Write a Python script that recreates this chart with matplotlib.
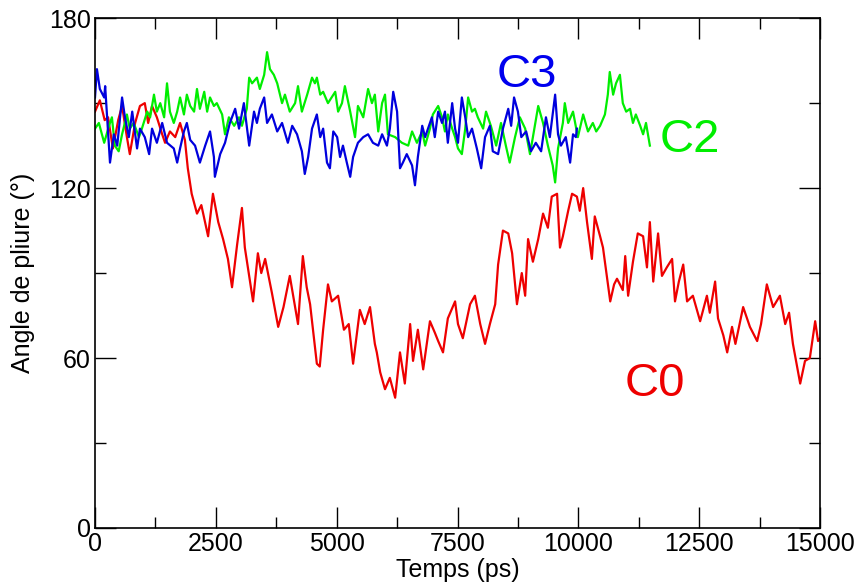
import matplotlib
matplotlib.use("Agg")
import matplotlib.pyplot as plt
from matplotlib.ticker import MultipleLocator

# C0 (red)
c0_t = [0, 100, 200, 270, 370, 480, 560, 660, 720, 830, 930, 1030, 1100, 1180, 1280, 1390,
        1450, 1550, 1660, 1760, 1860, 1920, 2000, 2110, 2200, 2340, 2440, 2550, 2650, 2750,
        2835, 2940, 3040, 3100, 3270, 3370, 3440, 3520, 3660, 3790, 3900, 4030, 4120, 4200,
        4300, 4380, 4450, 4590, 4650, 4720, 4820, 4900, 5030, 5150, 5250, 5340, 5480, 5580,
        5690, 5790, 5830, 5900, 6000, 6100, 6210, 6310, 6410, 6520, 6580, 6680, 6790, 6930,
        7030, 7100, 7200, 7300, 7450, 7510, 7610, 7760, 7860, 7970, 8070, 8170, 8280, 8340,
        8440, 8550, 8630, 8730, 8830, 8900, 8960, 9060, 9170, 9270, 9370, 9450, 9560, 9620,
        9680, 9790, 9870, 9970, 10030, 10100, 10180, 10280, 10340, 10450, 10510, 10660, 10740,
        10800, 10920, 10970, 11030, 11130, 11230, 11340, 11420, 11480, 11550, 11650, 11730,
        11830, 11940, 12000, 12080, 12170, 12250, 12370, 12520, 12660, 12720, 12830, 12890,
        13000, 13080, 13180, 13250, 13410, 13550, 13700, 13780, 13900, 14030, 14170, 14280,
        14360, 14440, 14590, 14690, 14790, 14900, 14960, 15000]
c0_v = [147, 151, 144, 145, 134, 144, 149, 138, 132, 143, 149, 150, 143, 149, 145, 139,
        136, 140, 138, 143, 137, 127, 118, 111, 114, 103, 118, 108, 102, 95,
        85, 100, 113, 99, 80, 97, 90, 95, 83, 71, 78, 89, 80, 72,
        96, 85, 79, 58, 57, 70, 86, 80, 82, 70, 72, 58, 77, 72,
        78, 65, 62, 55, 49, 53, 46, 62, 51, 72, 59, 70, 56, 73,
        69, 66, 62, 74, 80, 72, 67, 79, 82, 72, 65, 72, 79, 93,
        105, 104, 97, 79, 90, 82, 102, 94, 102, 111, 106, 117, 118, 99,
        103, 112, 118, 117, 112, 120, 108, 95, 110, 103, 99, 80, 86,
        88, 84, 96, 82, 94, 104, 103, 92, 108, 87, 104, 89,
        92, 95, 80, 87, 93, 80, 82, 73, 82, 76, 87, 74,
        68, 62, 71, 65, 78, 71, 66, 72, 86, 78, 82, 72,
        76, 65, 51, 59, 60, 73, 66, 67]

# C2 (green)
c2_t = [0, 80, 190, 290, 350, 410, 490, 560, 660, 720, 800, 910, 970, 1080, 1140, 1220,
        1280, 1350, 1430, 1490, 1550, 1630, 1700, 1760, 1840, 1900, 1970, 2050, 2110, 2170,
        2260, 2320, 2380, 2460, 2520, 2630, 2690, 2770, 2880, 2980, 3040, 3140, 3190, 3250,
        3350, 3410, 3500, 3560, 3620, 3700, 3770, 3870, 3930, 4030, 4140, 4200, 4280, 4390,
        4490, 4550, 4590, 4660, 4720, 4820, 4970, 5030, 5110, 5170, 5280, 5380, 5440, 5550,
        5650, 5730, 5790, 5860, 5940, 6000, 6060, 6210, 6350, 6480, 6560, 6660, 6770, 6830,
        6930, 6990, 7100, 7180, 7240, 7300, 7390, 7450, 7510, 7590, 7660, 7720, 7800, 7860,
        7920, 8030, 8090, 8190, 8300, 8400, 8500, 8580, 8690, 8790, 8900, 9000, 9100, 9170,
        9270, 9370, 9470, 9520, 9580, 9680, 9720, 9790, 9890, 9990, 10100, 10200, 10300,
        10370, 10450, 10550, 10610, 10650, 10720, 10780, 10860, 10920, 10990, 11070, 11130,
        11190, 11280, 11340, 11400, 11480]
c2_v = [141, 143, 136, 142, 145, 135, 133, 139, 146, 141, 143, 138, 141, 147, 145, 153,
        147, 150, 145, 157, 147, 143, 147, 152, 146, 153, 149, 147, 155, 148,
        154, 147, 152, 149, 150, 146, 139, 145, 142, 145, 142, 148, 159, 157,
        159, 155, 160, 168, 162, 160, 157, 150, 153, 147, 150, 156, 147, 153,
        159, 157, 159, 153, 154, 150, 154, 147, 150, 156, 147, 138, 149, 145,
        155, 150, 153, 140, 150, 153, 139, 138, 136, 135, 140, 136, 140, 135,
        141, 146, 149, 145, 140, 146, 141, 138, 134, 132, 141, 152, 147, 148,
        145, 141, 147, 142, 135, 143, 135, 129, 138, 145, 141, 132, 142, 149,
        143, 135, 128, 122, 134, 143, 150, 143, 147, 138, 146, 140, 143,
        140, 142, 146, 153, 161, 153, 157, 160, 150, 147, 148, 143,
        146, 142, 139, 143, 135]

# C3 (blue)
c3_t = [0, 40, 100, 190, 210, 310, 390, 460, 560, 620, 700, 770, 870, 930, 1030, 1120,
        1180, 1280, 1390, 1490, 1630, 1700, 1760, 1840, 1900, 1970, 2070, 2170, 2280, 2380,
        2460, 2480, 2590, 2690, 2790, 2900, 2980, 3080, 3190, 3290, 3350, 3410, 3500, 3560,
        3660, 3770, 3870, 3990, 4080, 4180, 4280, 4340, 4410, 4490, 4590, 4660, 4720, 4800,
        4860, 4930, 5010, 5070, 5130, 5210, 5280, 5340, 5440, 5550, 5650, 5750, 5860, 5940,
        6040, 6100, 6170, 6250, 6310, 6370, 6450, 6560, 6620, 6680, 6770, 6830, 6890, 6970,
        7030, 7100, 7180, 7240, 7300, 7390, 7450, 7510, 7590, 7660, 7720, 7800, 7900, 7990,
        8070, 8170, 8230, 8340, 8440, 8550, 8610, 8670, 8750, 8820, 8920, 9020, 9120, 9230,
        9330, 9410, 9520, 9580, 9640, 9740, 9830, 9890, 9950, 9970]
c3_v = [152, 162, 155, 152, 156, 129, 139, 135, 152, 145, 138, 147, 134, 141, 138, 132,
        141, 136, 143, 136, 134, 129, 134, 140, 143, 137, 135, 129, 135, 140,
        131, 124, 132, 136, 143, 148, 141, 150, 135, 147, 143, 148, 152, 143,
        146, 140, 143, 136, 142, 139, 133, 125, 131, 141, 146, 138, 141, 129,
        127, 140, 138, 131, 135, 129, 124, 131, 136, 138, 139, 136, 135, 139,
        135, 141, 154, 147, 127, 129, 132, 128, 121, 131, 142, 138, 141, 145,
        138, 147, 143, 147, 136, 150, 141, 136, 152, 145, 138, 141, 134, 127,
        138, 142, 133, 132, 141, 148, 142, 152, 147, 138, 140, 133, 136, 133,
        145, 138, 153, 139, 135, 138, 129, 139, 138, 141]

plt.rcParams['font.family'] = ['Liberation Sans', 'DejaVu Sans']

fig = plt.figure(figsize=(8.59, 5.86), dpi=100)
ax = fig.add_axes([0.1106, 0.099, 0.844, 0.870])

ax.plot(c0_t, c0_v, color='#ee0000', lw=1.6)
ax.plot(c2_t, c2_v, color='#00ee00', lw=1.6)
ax.plot(c3_t, c3_v, color='#0000dd', lw=1.6)

ax.set_xlim(0, 15000)
ax.set_ylim(0, 180)
ax.xaxis.set_major_locator(MultipleLocator(2500))
ax.xaxis.set_minor_locator(MultipleLocator(1250))
ax.yaxis.set_major_locator(MultipleLocator(60))
ax.yaxis.set_minor_locator(MultipleLocator(30))
ax.tick_params(which='both', direction='in', top=True, right=True, labelsize=18, width=1)
ax.tick_params(which='major', length=15, pad=3)
ax.tick_params(which='minor', length=8)
for s in ax.spines.values():
    s.set_linewidth(1.2)

ax.set_xlabel('Temps (ps)', fontsize=18, labelpad=1)
ax.set_ylabel('Angle de pliure (°)', fontsize=18, labelpad=10)

# lift the y "0" so it sits above the x "0" like in the original
fig.canvas.draw()
ax.get_yticklabels()[0].set_va('bottom')

ax.text(8940, 160, 'C3', color='#0000ee', fontsize=34, ha='center', va='center')
ax.text(12310, 137, 'C2', color='#00ee00', fontsize=34, ha='center', va='center')
ax.text(11590, 51, 'C0', color='#ee0000', fontsize=34, ha='center', va='center')

fig.savefig('out.png', dpi=100)
